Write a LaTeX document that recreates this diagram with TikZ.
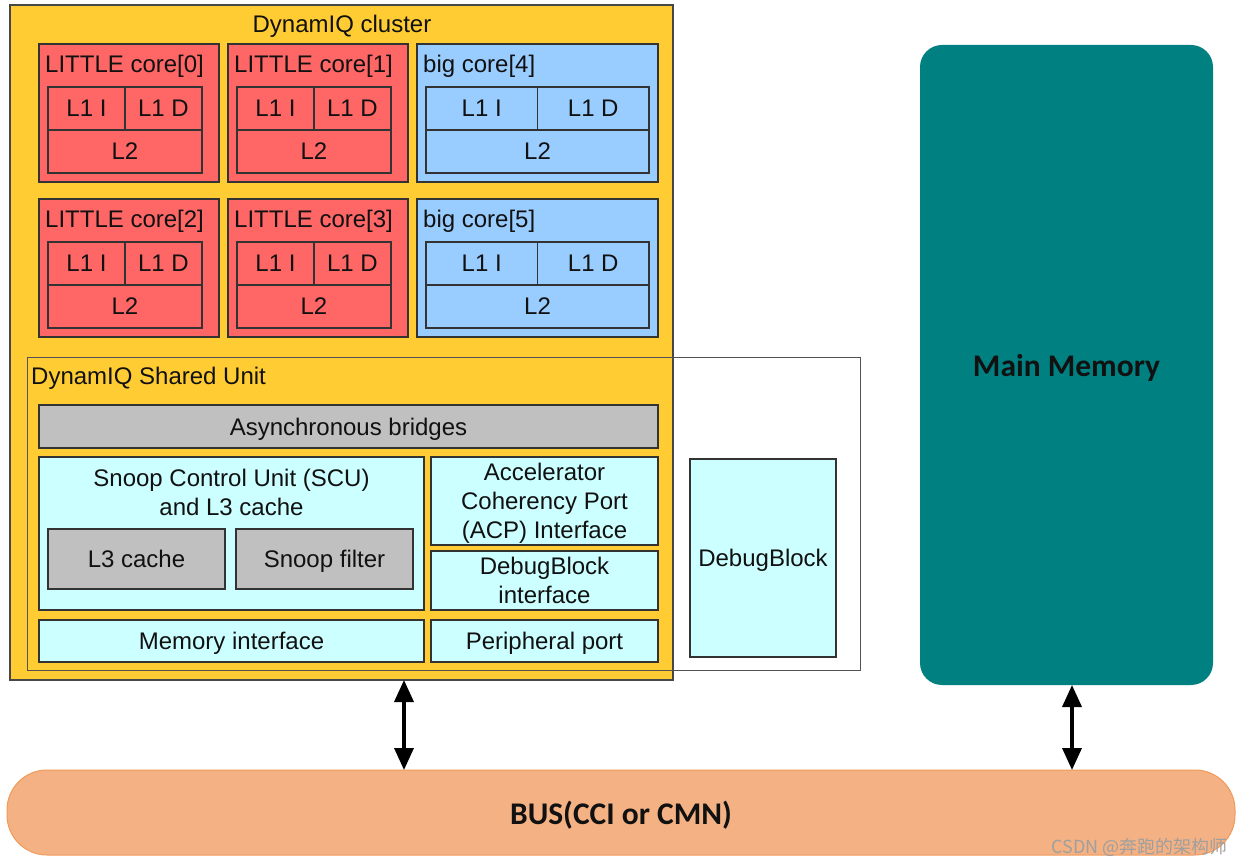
\documentclass[tikz,border=0pt]{standalone}
\usepackage{fontspec}
\setmainfont{Liberation Sans}
\newfontfamily\calfont{Carlito}
\newfontfamily\cjkfont{Noto Sans CJK SC}
\usetikzlibrary{arrows.meta}
\definecolor{clus}{HTML}{FFCC33}
\definecolor{redc}{HTML}{FF6666}
\definecolor{bluec}{HTML}{99CCFF}
\definecolor{cyanc}{HTML}{CCFFFF}
\definecolor{grayc}{HTML}{C0C0C0}
\definecolor{tealc}{HTML}{008080}
\definecolor{busc}{HTML}{F4B183}
\definecolor{busb}{HTML}{F19A5A}
\definecolor{bordc}{HTML}{333333}
\definecolor{txt}{HTML}{111111}
\tikzset{
  box/.style={draw=bordc, line width=1.3pt, inner sep=0pt, outer sep=0pt, anchor=north west, align=center, text depth=0pt},
  lbl/.style={inner sep=0pt, align=center},
  ttl/.style={inner sep=0pt, anchor=west, text depth=0pt},
  tipx/.tip={Triangle[length=22pt,width=19pt]},
  dbl/.style={line width=3.5pt, tipx-tipx},
}
\begin{document}
\begin{tikzpicture}[x=1pt,y=-1pt, every node/.append style={font=\fontsize{24}{29}\selectfont, text=txt}]
\useasboundingbox (0,0) rectangle (1243,866);
% cluster
\node[box, fill=clus, draw=bordc!90, minimum width=663, minimum height=675] (cluster) at (10,5) {};
\node[lbl, text depth=0pt] (clustert) at (342,24) {DynamIQ cluster};
% cores
\foreach \n/\x/\y/\w/\iw/\col/\lab in {
  c0/39/44/180/154/redc/{LITTLE core[0]},
  c1/228/44/180/154/redc/{LITTLE core[1]},
  c4/417/44/241/223/bluec/{big core[4]},
  c2/39/199/180/154/redc/{LITTLE core[2]},
  c3/228/199/180/154/redc/{LITTLE core[3]},
  c5/417/199/241/223/bluec/{big core[5]}} {
  \node[box, fill=\col, minimum width=\w, minimum height=138] (\n) at (\x,\y) {};
  \node[ttl] (\n-t) at ({\x+6},{\y+20}) {\lab};
  \node[box, fill=\col, minimum width=\iw/2, minimum height=43] (\n-l1i) at ({\x+9},{\y+43}) {L1 I};
  \node[box, fill=\col, minimum width=\iw/2, minimum height=43] (\n-l1d) at ({\x+9+\iw/2},{\y+43}) {L1 D};
  \node[box, fill=\col, minimum width=\iw, minimum height=43] (\n-l2) at ({\x+9},{\y+86}) {L2};
}
% DSU
\node[box, draw=bordc!85, line width=1pt, minimum width=833, minimum height=312] (dsu) at (27,358) {};
\node[ttl] (dsut) at (31,376) {DynamIQ Shared Unit};
\node[box, fill=grayc, minimum width=619, minimum height=43] (async) at (39,405) {Asynchronous bridges};
\node[box, fill=cyanc, minimum width=385, minimum height=153] (scu) at (39,457) {};
\node[lbl] (scut) at (231.5,492) {Snoop Control Unit (SCU)\\and L3 cache};
\node[box, fill=grayc, minimum width=177, minimum height=60] (l3) at (48,529) {L3 cache};
\node[box, fill=grayc, minimum width=177, minimum height=60] (sf) at (236,529) {Snoop filter};
\node[box, fill=cyanc, minimum width=385, minimum height=42] (memif) at (39,620) {Memory interface};
\node[box, fill=cyanc, minimum width=227, minimum height=88] (acp) at (431,457) {Accelerator\\Coherency Port\\(ACP) Interface};
\node[box, fill=cyanc, minimum width=227, minimum height=59] (dbgif) at (431,551) {DebugBlock\\interface};
\node[box, fill=cyanc, minimum width=227, minimum height=42] (pport) at (431,620) {Peripheral port};
\node[box, fill=cyanc, line width=1.1pt, minimum width=146, minimum height=198] (dbg) at (690,459) {DebugBlock};
% main memory
\node[box, draw=none, fill=tealc, rounded corners=22pt, minimum width=293, minimum height=640, font=\calfont\bfseries\fontsize{31.5}{34}\selectfont] (mm) at (920,45) {Main Memory};
% bus
\node[box, draw=busb, line width=1pt, fill=busc, rounded corners=40pt, minimum width=1228, minimum height=85, font=\calfont\bfseries\fontsize{31.5}{34}\selectfont] (bus) at (7,770) {BUS(CCI or CMN)};
% arrows
\coordinate (a1) at (404,0);
\coordinate (a2) at (1072,0);
\draw[dbl] (a1 |- cluster.south) -- (a1 |- bus.north);
\draw[dbl] (a2 |- mm.south) -- (a2 |- bus.north);
% watermark
\node[inner sep=0pt, anchor=east, text=gray!75, font=\cjkfont\fontsize{18}{20}\selectfont] (wm) at (1228,847) {CSDN @奔跑的架构师};
\end{tikzpicture}
\end{document}
